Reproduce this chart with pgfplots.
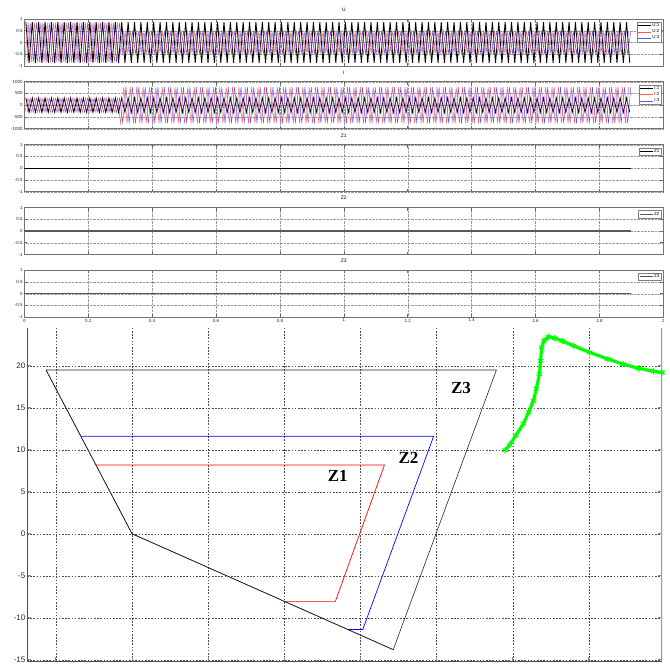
\documentclass[border=0pt]{standalone}
\usepackage{pgfplots}
\pgfplotsset{compat=1.18}
\usepackage{pgfplotstable}
\usepackage{fontspec}
\setmainfont{Liberation Sans}
\newfontfamily\timesf{Liberation Serif}
\definecolor{mred}{RGB}{255,85,85}
\definecolor{mblue}{RGB}{85,85,255}
\definecolor{mgreen}{RGB}{0,255,0}

% phase 1 (black): t [ms], U [1e5 V], I [A]
\pgfplotstableread[row sep=\\]{
t u i\\
5 .87 300\\15 -.87 -300\\25 .87 300\\35 -.87 -300\\45 .87 300\\55 -.87 -300\\65 .87 300\\75 -.87 -300\\85 .87 300\\95 -.87 -300\\
105 .87 300\\115 -.87 -300\\125 .87 300\\135 -.87 -300\\145 .87 300\\155 -.87 -300\\165 .87 300\\175 -.87 -300\\185 .87 300\\195 -.87 -300\\
205 .87 300\\215 -.87 -300\\225 .87 300\\235 -.87 -300\\245 .87 300\\255 -.87 -300\\265 .87 300\\275 -.87 -300\\285 .87 300\\295 -.87 -300\\
305 .87 300\\315 -.87 -300\\325 .87 300\\335 -.87 -300\\345 .87 300\\355 -.87 -300\\365 .87 300\\375 -.87 -300\\385 .87 300\\395 -.87 -300\\
405 .87 300\\415 -.87 -300\\425 .87 300\\435 -.87 -300\\445 .87 300\\455 -.87 -300\\465 .87 300\\475 -.87 -300\\485 .87 300\\495 -.87 -300\\
505 .87 300\\515 -.87 -300\\525 .87 300\\535 -.87 -300\\545 .87 300\\555 -.87 -300\\565 .87 300\\575 -.87 -300\\585 .87 300\\595 -.87 -300\\
605 .87 300\\615 -.87 -300\\625 .87 300\\635 -.87 -300\\645 .87 300\\655 -.87 -300\\665 .87 300\\675 -.87 -300\\685 .87 300\\695 -.87 -300\\
705 .87 300\\715 -.87 -300\\725 .87 300\\735 -.87 -300\\745 .87 300\\755 -.87 -300\\765 .87 300\\775 -.87 -300\\785 .87 300\\795 -.87 -300\\
805 .87 300\\815 -.87 -300\\825 .87 300\\835 -.87 -300\\845 .87 300\\855 -.87 -300\\865 .87 300\\875 -.87 -300\\885 .87 300\\895 -.87 -300\\
905 .87 300\\915 -.87 -300\\925 .87 300\\935 -.87 -300\\945 .87 300\\955 -.87 -300\\965 .87 300\\975 -.87 -300\\985 .87 300\\995 -.87 -300\\
1005 .87 300\\1015 -.87 -300\\1025 .87 300\\1035 -.87 -300\\1045 .87 300\\1055 -.87 -300\\1065 .87 300\\1075 -.87 -300\\1085 .87 300\\1095 -.87 -300\\
1105 .87 300\\1115 -.87 -300\\1125 .87 300\\1135 -.87 -300\\1145 .87 300\\1155 -.87 -300\\1165 .87 300\\1175 -.87 -300\\1185 .87 300\\1195 -.87 -300\\
1205 .87 300\\1215 -.87 -300\\1225 .87 300\\1235 -.87 -300\\1245 .87 300\\1255 -.87 -300\\1265 .87 300\\1275 -.87 -300\\1285 .87 300\\1295 -.87 -300\\
1305 .87 300\\1315 -.87 -300\\1325 .87 300\\1335 -.87 -300\\1345 .87 300\\1355 -.87 -300\\1365 .87 300\\1375 -.87 -300\\1385 .87 300\\1395 -.87 -300\\
1405 .87 300\\1415 -.87 -300\\1425 .87 300\\1435 -.87 -300\\1445 .87 300\\1455 -.87 -300\\1465 .87 300\\1475 -.87 -300\\1485 .87 300\\1495 -.87 -300\\
1505 .87 300\\1515 -.87 -300\\1525 .87 300\\1535 -.87 -300\\1545 .87 300\\1555 -.87 -300\\1565 .87 300\\1575 -.87 -300\\1585 .87 300\\1595 -.87 -300\\
1605 .87 300\\1615 -.87 -300\\1625 .87 300\\1635 -.87 -300\\1645 .87 300\\1655 -.87 -300\\1665 .87 300\\1675 -.87 -300\\1685 .87 300\\1695 -.87 -300\\
1705 .87 300\\1715 -.87 -300\\1725 .87 300\\1735 -.87 -300\\1745 .87 300\\1755 -.87 -300\\1765 .87 300\\1775 -.87 -300\\1785 .87 300\\1795 -.87 -300\\
1805 .87 300\\1815 -.87 -300\\1825 .87 300\\1835 -.87 -300\\1845 .87 300\\1855 -.87 -300\\1865 .87 300\\1875 -.87 -300\\1885 .87 300\\1895 -.87 -300\\
}\PA

% phase 2 (red)
\pgfplotstableread[row sep=\\]{
t u i\\
1.7 -.85 -300\\11.7 .85 300\\21.7 -.85 -300\\31.7 .85 300\\41.7 -.85 -300\\51.7 .85 300\\61.7 -.85 -300\\71.7 .85 300\\81.7 -.85 -300\\91.7 .85 300\\
101.7 -.85 -300\\111.7 .85 300\\121.7 -.85 -300\\131.7 .85 300\\141.7 -.85 -300\\151.7 .85 300\\161.7 -.85 -300\\171.7 .85 300\\181.7 -.85 -300\\191.7 .85 300\\
201.7 -.85 -300\\211.7 .85 300\\221.7 -.85 -300\\231.7 .85 300\\241.7 -.85 -300\\251.7 .85 300\\261.7 -.85 -300\\271.7 .85 300\\281.7 -.85 -300\\291.7 .85 300\\
301.7 -.46 -770\\311.7 .46 770\\321.7 -.46 -770\\331.7 .46 770\\341.7 -.46 -770\\351.7 .46 770\\361.7 -.46 -770\\371.7 .46 770\\381.7 -.46 -770\\391.7 .46 770\\
401.7 -.46 -770\\411.7 .46 770\\421.7 -.46 -770\\431.7 .46 770\\441.7 -.46 -770\\451.7 .46 770\\461.7 -.46 -770\\471.7 .46 770\\481.7 -.46 -770\\491.7 .46 770\\
501.7 -.46 -770\\511.7 .46 770\\521.7 -.46 -770\\531.7 .46 770\\541.7 -.46 -770\\551.7 .46 770\\561.7 -.46 -770\\571.7 .46 770\\581.7 -.46 -770\\591.7 .46 770\\
601.7 -.46 -770\\611.7 .46 770\\621.7 -.46 -770\\631.7 .46 770\\641.7 -.46 -770\\651.7 .46 770\\661.7 -.46 -770\\671.7 .46 770\\681.7 -.46 -770\\691.7 .46 770\\
701.7 -.46 -770\\711.7 .46 770\\721.7 -.46 -770\\731.7 .46 770\\741.7 -.46 -770\\751.7 .46 770\\761.7 -.46 -770\\771.7 .46 770\\781.7 -.46 -770\\791.7 .46 770\\
801.7 -.46 -770\\811.7 .46 770\\821.7 -.46 -770\\831.7 .46 770\\841.7 -.46 -770\\851.7 .46 770\\861.7 -.46 -770\\871.7 .46 770\\881.7 -.46 -770\\891.7 .46 770\\
901.7 -.46 -770\\911.7 .46 770\\921.7 -.46 -770\\931.7 .46 770\\941.7 -.46 -770\\951.7 .46 770\\961.7 -.46 -770\\971.7 .46 770\\981.7 -.46 -770\\991.7 .46 770\\
1001.7 -.46 -770\\1011.7 .46 770\\1021.7 -.46 -770\\1031.7 .46 770\\1041.7 -.46 -770\\1051.7 .46 770\\1061.7 -.46 -770\\1071.7 .46 770\\1081.7 -.46 -770\\1091.7 .46 770\\
1101.7 -.46 -770\\1111.7 .46 770\\1121.7 -.46 -770\\1131.7 .46 770\\1141.7 -.46 -770\\1151.7 .46 770\\1161.7 -.46 -770\\1171.7 .46 770\\1181.7 -.46 -770\\1191.7 .46 770\\
1201.7 -.46 -770\\1211.7 .46 770\\1221.7 -.46 -770\\1231.7 .46 770\\1241.7 -.46 -770\\1251.7 .46 770\\1261.7 -.46 -770\\1271.7 .46 770\\1281.7 -.46 -770\\1291.7 .46 770\\
1301.7 -.46 -770\\1311.7 .46 770\\1321.7 -.46 -770\\1331.7 .46 770\\1341.7 -.46 -770\\1351.7 .46 770\\1361.7 -.46 -770\\1371.7 .46 770\\1381.7 -.46 -770\\1391.7 .46 770\\
1401.7 -.46 -770\\1411.7 .46 770\\1421.7 -.46 -770\\1431.7 .46 770\\1441.7 -.46 -770\\1451.7 .46 770\\1461.7 -.46 -770\\1471.7 .46 770\\1481.7 -.46 -770\\1491.7 .46 770\\
1501.7 -.46 -770\\1511.7 .46 770\\1521.7 -.46 -770\\1531.7 .46 770\\1541.7 -.46 -770\\1551.7 .46 770\\1561.7 -.46 -770\\1571.7 .46 770\\1581.7 -.46 -770\\1591.7 .46 770\\
1601.7 -.46 -770\\1611.7 .46 770\\1621.7 -.46 -770\\1631.7 .46 770\\1641.7 -.46 -770\\1651.7 .46 770\\1661.7 -.46 -770\\1671.7 .46 770\\1681.7 -.46 -770\\1691.7 .46 770\\
1701.7 -.46 -770\\1711.7 .46 770\\1721.7 -.46 -770\\1731.7 .46 770\\1741.7 -.46 -770\\1751.7 .46 770\\1761.7 -.46 -770\\1771.7 .46 770\\1781.7 -.46 -770\\1791.7 .46 770\\
1801.7 -.46 -770\\1811.7 .46 770\\1821.7 -.46 -770\\1831.7 .46 770\\1841.7 -.46 -770\\1851.7 .46 770\\1861.7 -.46 -770\\1871.7 .46 770\\1881.7 -.46 -770\\1891.7 .46 770\\
}\PB

% phase 3 (blue)
\pgfplotstableread[row sep=\\]{
t u i\\
8.3 -.85 -300\\18.3 .85 300\\28.3 -.85 -300\\38.3 .85 300\\48.3 -.85 -300\\58.3 .85 300\\68.3 -.85 -300\\78.3 .85 300\\88.3 -.85 -300\\98.3 .85 300\\
108.3 -.85 -300\\118.3 .85 300\\128.3 -.85 -300\\138.3 .85 300\\148.3 -.85 -300\\158.3 .85 300\\168.3 -.85 -300\\178.3 .85 300\\188.3 -.85 -300\\198.3 .85 300\\
208.3 -.85 -300\\218.3 .85 300\\228.3 -.85 -300\\238.3 .85 300\\248.3 -.85 -300\\258.3 .85 300\\268.3 -.85 -300\\278.3 .85 300\\288.3 -.85 -300\\298.3 .85 300\\
308.3 -.46 -770\\318.3 .46 770\\328.3 -.46 -770\\338.3 .46 770\\348.3 -.46 -770\\358.3 .46 770\\368.3 -.46 -770\\378.3 .46 770\\388.3 -.46 -770\\398.3 .46 770\\
408.3 -.46 -770\\418.3 .46 770\\428.3 -.46 -770\\438.3 .46 770\\448.3 -.46 -770\\458.3 .46 770\\468.3 -.46 -770\\478.3 .46 770\\488.3 -.46 -770\\498.3 .46 770\\
508.3 -.46 -770\\518.3 .46 770\\528.3 -.46 -770\\538.3 .46 770\\548.3 -.46 -770\\558.3 .46 770\\568.3 -.46 -770\\578.3 .46 770\\588.3 -.46 -770\\598.3 .46 770\\
608.3 -.46 -770\\618.3 .46 770\\628.3 -.46 -770\\638.3 .46 770\\648.3 -.46 -770\\658.3 .46 770\\668.3 -.46 -770\\678.3 .46 770\\688.3 -.46 -770\\698.3 .46 770\\
708.3 -.46 -770\\718.3 .46 770\\728.3 -.46 -770\\738.3 .46 770\\748.3 -.46 -770\\758.3 .46 770\\768.3 -.46 -770\\778.3 .46 770\\788.3 -.46 -770\\798.3 .46 770\\
808.3 -.46 -770\\818.3 .46 770\\828.3 -.46 -770\\838.3 .46 770\\848.3 -.46 -770\\858.3 .46 770\\868.3 -.46 -770\\878.3 .46 770\\888.3 -.46 -770\\898.3 .46 770\\
908.3 -.46 -770\\918.3 .46 770\\928.3 -.46 -770\\938.3 .46 770\\948.3 -.46 -770\\958.3 .46 770\\968.3 -.46 -770\\978.3 .46 770\\988.3 -.46 -770\\998.3 .46 770\\
1008.3 -.46 -770\\1018.3 .46 770\\1028.3 -.46 -770\\1038.3 .46 770\\1048.3 -.46 -770\\1058.3 .46 770\\1068.3 -.46 -770\\1078.3 .46 770\\1088.3 -.46 -770\\1098.3 .46 770\\
1108.3 -.46 -770\\1118.3 .46 770\\1128.3 -.46 -770\\1138.3 .46 770\\1148.3 -.46 -770\\1158.3 .46 770\\1168.3 -.46 -770\\1178.3 .46 770\\1188.3 -.46 -770\\1198.3 .46 770\\
1208.3 -.46 -770\\1218.3 .46 770\\1228.3 -.46 -770\\1238.3 .46 770\\1248.3 -.46 -770\\1258.3 .46 770\\1268.3 -.46 -770\\1278.3 .46 770\\1288.3 -.46 -770\\1298.3 .46 770\\
1308.3 -.46 -770\\1318.3 .46 770\\1328.3 -.46 -770\\1338.3 .46 770\\1348.3 -.46 -770\\1358.3 .46 770\\1368.3 -.46 -770\\1378.3 .46 770\\1388.3 -.46 -770\\1398.3 .46 770\\
1408.3 -.46 -770\\1418.3 .46 770\\1428.3 -.46 -770\\1438.3 .46 770\\1448.3 -.46 -770\\1458.3 .46 770\\1468.3 -.46 -770\\1478.3 .46 770\\1488.3 -.46 -770\\1498.3 .46 770\\
1508.3 -.46 -770\\1518.3 .46 770\\1528.3 -.46 -770\\1538.3 .46 770\\1548.3 -.46 -770\\1558.3 .46 770\\1568.3 -.46 -770\\1578.3 .46 770\\1588.3 -.46 -770\\1598.3 .46 770\\
1608.3 -.46 -770\\1618.3 .46 770\\1628.3 -.46 -770\\1638.3 .46 770\\1648.3 -.46 -770\\1658.3 .46 770\\1668.3 -.46 -770\\1678.3 .46 770\\1688.3 -.46 -770\\1698.3 .46 770\\
1708.3 -.46 -770\\1718.3 .46 770\\1728.3 -.46 -770\\1738.3 .46 770\\1748.3 -.46 -770\\1758.3 .46 770\\1768.3 -.46 -770\\1778.3 .46 770\\1788.3 -.46 -770\\1798.3 .46 770\\
1808.3 -.46 -770\\1818.3 .46 770\\1828.3 -.46 -770\\1838.3 .46 770\\1848.3 -.46 -770\\1858.3 .46 770\\1868.3 -.46 -770\\1878.3 .46 770\\1888.3 -.46 -770\\1898.3 .46 770\\
}\PC

\pgfplotsset{
  legend image code/.code={\draw[#1] (0bp,0bp) -- (13bp,0bp);},
  topax/.style={
    anchor=north west, scale only axis, width=639bp, height=47bp,
    xmin=0, xmax=2000, xtick={0,200,...,2000}, xticklabels={},
    grid=major, grid style={densely dotted, black!40, line width=0.4pt},
    axis line style={black!55, line width=0.5pt},
    tick style={black!60, line width=0.6pt},
    tick align=inside, major tick length=3bp,
    ticklabel style={font=\fontsize{4.5}{5}\selectfont, text=black!85},
    yticklabel style={inner sep=1.5bp},
    xticklabel style={inner sep=1.5bp},
    title style={font=\fontsize{5}{6}\selectfont, inner sep=1.5bp},
    legend style={font=\fontsize{4.5}{5}\selectfont, draw=black!50, line width=0.4pt,
      at={(0.9964,0.94)}, anchor=north east, inner sep=0.6bp,
      nodes={inner sep=0.8bp}, cells={anchor=west}},
  }
}

\begin{document}
\begin{tikzpicture}
\path[use as bounding box] (0bp,0bp) rectangle (670bp,-664bp);

% ---------- U ----------
\begin{axis}[topax, at={(24.3bp,-19bp)}, title={U},
  ymin=-1, ymax=1, ytick={-1,-0.5,0,0.5,1}, yticklabels={-1,-0.5,0,0.5,1}]
\addplot[black, line width=0.85pt] table[x=t,y=u]{\PA};
\addlegendentry{U:1}
\addplot[mred, line width=0.45pt] table[x=t,y=u]{\PB};
\addlegendentry{U:2}
\addplot[mblue, line width=0.45pt] table[x=t,y=u]{\PC};
\addlegendentry{U:3}
\node[anchor=south west, inner sep=0pt] at (rel axis cs:0,1.06) {\fontsize{5}{6}\selectfont$\times$10\raisebox{1.5bp}{\fontsize{6}{7}\selectfont 5}};
\end{axis}

% ---------- I ----------
\begin{axis}[topax, at={(24.3bp,-81.7bp)}, title={I},
  ymin=-1000, ymax=1000, ytick={-1000,-500,0,500,1000}, yticklabels={-1000,-500,0,500,1000}]
\addplot[black, line width=0.85pt] table[x=t,y=i]{\PA};
\addlegendentry{I:1}
\addplot[mred, line width=0.45pt] table[x=t,y=i]{\PB};
\addlegendentry{I:2}
\addplot[mblue, line width=0.45pt] table[x=t,y=i]{\PC};
\addlegendentry{I:3}
\end{axis}

% ---------- Z1 ----------
\begin{axis}[topax, at={(24.3bp,-144.7bp)}, title={Z1},
  ymin=-1, ymax=1, ytick={-1,-0.5,0,0.5,1}, yticklabels={-1,-0.5,0,0.5,1}]
\addplot[black, line width=0.8pt] coordinates {(0,0) (1900,0)};
\addlegendentry{Z1}
\end{axis}

% ---------- Z2 ----------
\begin{axis}[topax, at={(24.3bp,-207.5bp)}, title={Z2},
  ymin=-1, ymax=1, ytick={-1,-0.5,0,0.5,1}, yticklabels={-1,-0.5,0,0.5,1}]
\addplot[black!65, line width=1.1pt] coordinates {(0,0) (1900,0)};
\addlegendentry{Z2}
\end{axis}

% ---------- Z3 ----------
\begin{axis}[topax, at={(24.3bp,-270.2bp)}, title={Z3},
  ymin=-1, ymax=1, ytick={-1,-0.5,0,0.5,1}, yticklabels={-1,-0.5,0,0.5,1},
  xticklabels={0,0.2,0.4,0.6,0.8,1,1.2,1.4,1.6,1.8,2}]
\addplot[black!65, line width=1.1pt] coordinates {(0,0) (1900,0)};
\addlegendentry{Z3}
\end{axis}

% ---------- impedance plane ----------
\begin{axis}[anchor=north west, at={(27bp,-328bp)}, scale only axis,
  width=635bp, height=333bp,
  xmin=-13.8, xmax=69.6, ymin=-15.15, ymax=24.5,
  xtick={-10,0,...,60}, xticklabels={}, xtick pos=bottom,
  ytick={-15,-10,...,20}, yticklabels={-15,-10,-5,0,5,10,15,20},
  grid=major, grid style={dash pattern=on 1.6pt off 1.6pt, black!70, line width=0.5pt},
  axis line style={draw=none},
  tick align=inside, major tick length=4bp,
  tick style={black!45, line width=0.9pt},
  yticklabel style={font=\fontsize{8}{9}\selectfont, text=black!85, inner sep=1.5bp},
  clip=true]
\draw[black!70, line width=0.6pt] (rel axis cs:0,1) -- (rel axis cs:0,0) -- (rel axis cs:1,0);
\draw[black!40, line width=1.5pt] (rel axis cs:1,0) -- (rel axis cs:1,1);
% Z3 black
\addplot[black!85, line width=0.6pt] coordinates {(-11.3,19.5) (47.85,19.5) (34.3,-13.8) (0,0) (-11.3,19.5)};
% Z2 blue
\addplot[blue, line width=0.7pt] coordinates {(-6.72,11.6) (39.6,11.6) (30.3,-11.4) (28.4,-11.4)};
% Z1 red
\addplot[red, line width=0.7pt] coordinates {(-4.75,8.2) (33.15,8.2) (26.7,-8.05) (20.0,-8.05)};
% shared black lower/left edges on top
\addplot[black!85, line width=0.6pt] coordinates {(-11.3,19.5) (0,0) (34.3,-13.8)};
% trajectory
\addplot[mgreen, line width=3.2pt, mark=asterisk, mark size=3.2pt, mark options={line width=1pt}] coordinates {
(49.0,9.95) (49.6,10.6) (50.4,11.7) (51.4,13.1) (52.1,14.5) (52.7,15.8) (53.1,17.3) (53.5,19.0)
(53.65,20.6) (53.8,22.2) (54.1,23.0) (54.7,23.45) (55.5,23.3) (56.5,22.95) (57.95,22.4) (60.1,21.6)
(62.5,20.8) (64.5,20.2) (66.5,19.7) (68.5,19.35) (69.6,19.2)};
\node[font=\timesf\bfseries\fontsize{17}{19}\selectfont] at (axis cs:27.0,6.9) {Z1};
\node[font=\timesf\bfseries\fontsize{17}{19}\selectfont] at (axis cs:36.3,9.0) {Z2};
\node[font=\timesf\bfseries\fontsize{17}{19}\selectfont] at (axis cs:43.2,17.3) {Z3};
\end{axis}
\end{tikzpicture}
\end{document}
